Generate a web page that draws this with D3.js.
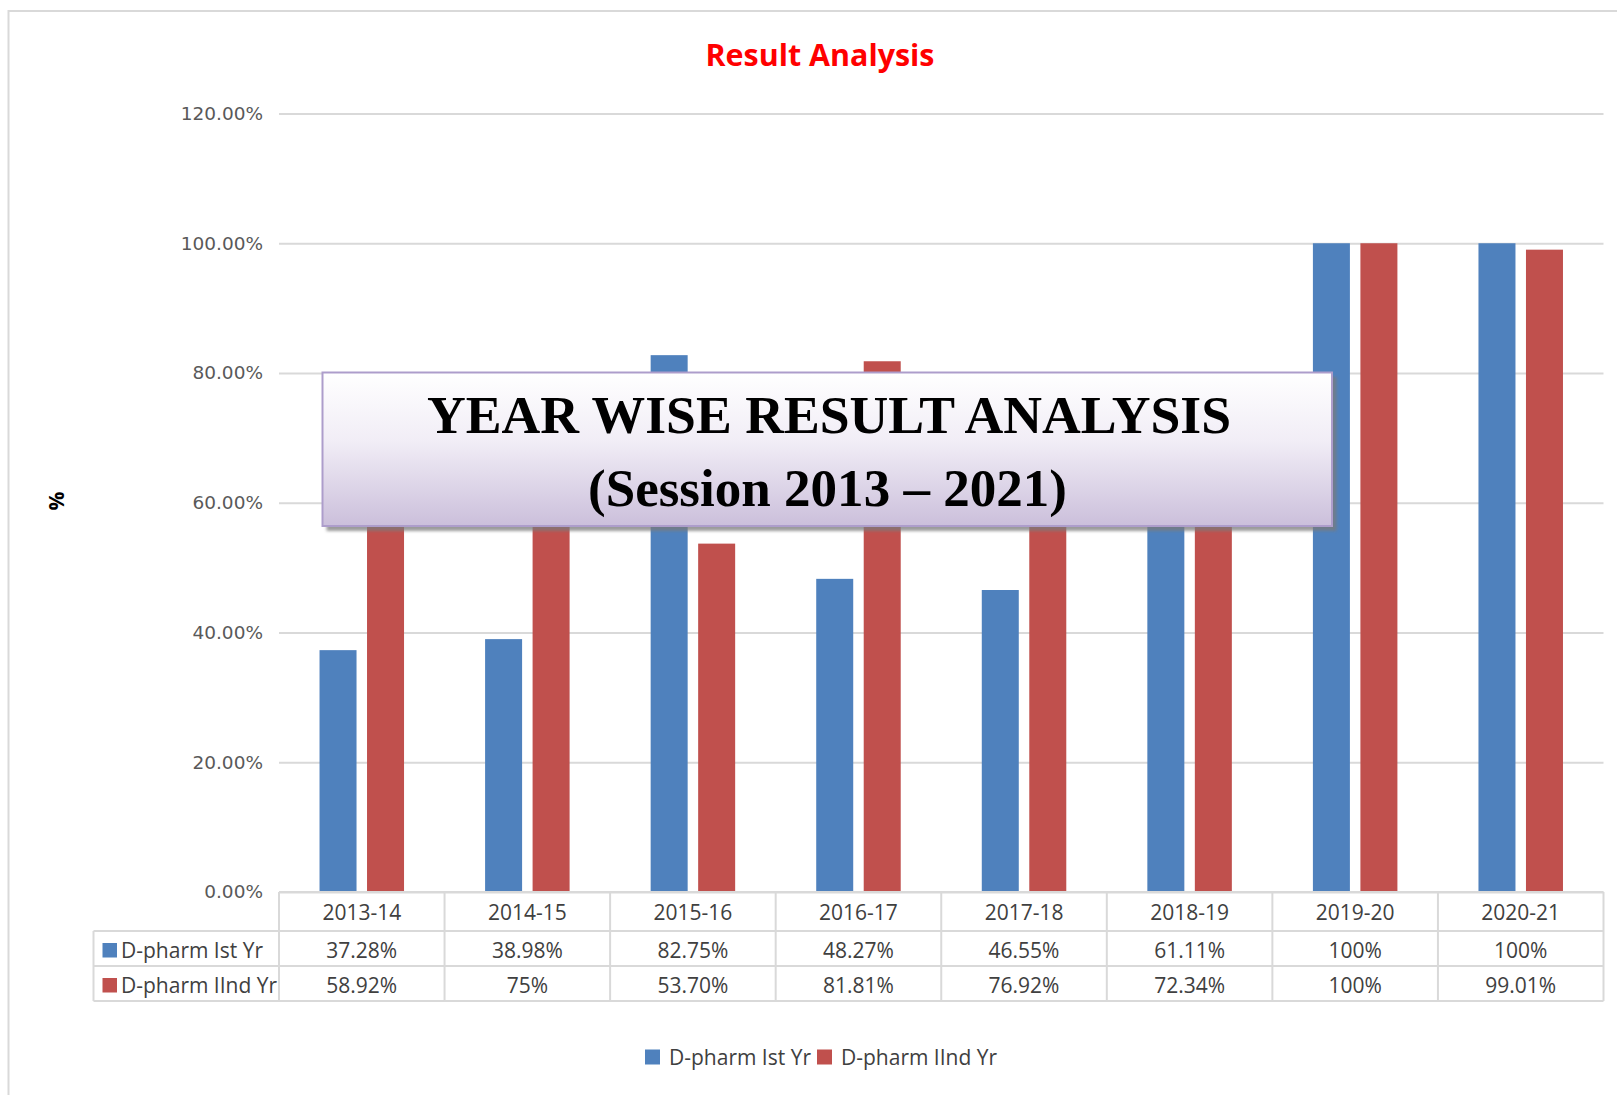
<!DOCTYPE html>
<html>
<head>
<meta charset="utf-8">
<title>Result Analysis</title>
<script src="https://cdn.jsdelivr.net/npm/d3@7"></script>
<style>
	body { margin: 0; background: #ffffff; }
	svg { display: block; }
</style>
</head>
<body>
<div id="svgElement"></div>
<script>
// sessions shown along the bottom
var categories = ["2013-14", "2014-15", "2015-16", "2016-17", "2017-18", "2018-19", "2019-20", "2020-21"];

// series names
var seriesNames = ["D-pharm Ist Yr", "D-pharm IInd Yr"];

// result % per session
var istYr = [37.28, 38.98, 82.75, 48.27, 46.55, 61.11, 100, 100];
var iindYr = [58.92, 75, 53.70, 81.81, 76.92, 72.34, 100, 99.01];

// the text printed in the data table (as written in the original)
var istYrLabels = ["37.28%", "38.98%", "82.75%", "48.27%", "46.55%", "61.11%", "100%", "100%"];
var iindYrLabels = ["58.92%", "75%", "53.70%", "81.81%", "76.92%", "72.34%", "100%", "99.01%"];

// y axis ticks
var yTicks = [0, 20, 40, 60, 80, 100, 120];

var colors = ["#4f81bd", "#c0504d"];

//plot area (note: "top" is taken by window.top, so these get a prefix)
var svgW = 1617, svgH = 1095;
var plotLeft = 279, plotRight = 1603.5, plotTop = 113.5, plotBottom = 892;

var svg = d3.select("#svgElement").append("svg").attr("width", svgW).attr("height", svgH);

//outer chart border
svg.append("rect")
	.attr("x", 8.5).attr("y", 11)
	.attr("width", 1700).attr("height", 1200)
	.attr("fill", "#ffffff")
	.attr("stroke", "#d9d9d9")
	.attr("stroke-width", 2);

//Title
svg.append("text")
	.attr("x", 820).attr("y", 65.5)
	.attr("text-anchor", "middle")
	.attr("font-family", "Open Sans")
	.attr("font-weight", "bold")
	.attr("font-size", 31)
	.attr("textLength", 229)
	.attr("lengthAdjust", "spacingAndGlyphs")
	.attr("fill", "#ff0000")
	.text("Result Analysis");

var y = d3.scaleLinear().domain([0, 120]).range([plotBottom, plotTop]);
var x0 = d3.scaleBand().domain(categories).range([plotLeft, plotRight]);
var bw = x0.bandwidth();
var x1 = d3.scaleBand().domain(seriesNames).range([bw / 2 - 42.25, bw / 2 + 42.25]).paddingInner(0.221);

//gridlines and tick labels
var yAxis = svg.append("g")
	.attr("transform", "translate(" + plotLeft + ",0)")
	.call(d3.axisLeft(y).tickValues(yTicks).tickSize(-(plotRight - plotLeft)).tickPadding(16)
		.tickFormat(function (d) { return d.toFixed(2) + "%"; }));
yAxis.select(".domain").remove();
yAxis.selectAll("line").attr("stroke", "#d9d9d9").attr("stroke-width", 2);
yAxis.selectAll("text")
	.attr("font-family", "DejaVu Sans")
	.attr("font-size", 18.5)
	.attr("fill", "#595959");

//axis title
svg.append("text")
	.attr("transform", "translate(64,501) rotate(-90)")
	.attr("text-anchor", "middle")
	.attr("font-family", "Open Sans")
	.attr("font-weight", "bold")
	.attr("font-size", 21)
	.attr("fill", "#000000")
	.text("%");

//bars
var rows = categories.map(function (c, i) {
	return { cat: c, values: [istYr[i], iindYr[i]] };
});

var groups = svg.selectAll("g.cat").data(rows).enter().append("g")
	.attr("class", "cat")
	.attr("transform", function (d) { return "translate(" + x0(d.cat) + ",0)"; });

groups.selectAll("rect").data(function (d) {
	return d.values.map(function (v, j) { return { name: seriesNames[j], value: v, k: j }; });
}).enter().append("rect")
	.attr("x", function (d) { return x1(d.name); })
	.attr("width", x1.bandwidth())
	.attr("y", function (d) { return y(d.value); })
	.attr("height", function (d) { return y(0) - y(d.value); })
	.attr("fill", function (d) { return colors[d.k]; });

//data table under the chart
var rowTop = [892, 931, 966, 1001];
var table = svg.append("g").attr("stroke", "#d9d9d9").attr("stroke-width", 2);
table.append("line").attr("x1", plotLeft).attr("x2", plotRight).attr("y1", rowTop[0]).attr("y2", rowTop[0]);
for (var r = 1; r < rowTop.length; r++) {
	table.append("line").attr("x1", 93.5).attr("x2", plotRight).attr("y1", rowTop[r]).attr("y2", rowTop[r]);
}
table.append("line").attr("x1", 93.5).attr("x2", 93.5).attr("y1", rowTop[1]).attr("y2", rowTop[3]);
var edges = categories.map(function (c) { return x0(c); }).concat([plotRight]);
table.selectAll("line.v").data(edges).enter().append("line")
	.attr("class", "v")
	.attr("x1", function (d) { return d; }).attr("x2", function (d) { return d; })
	.attr("y1", rowTop[0]).attr("y2", rowTop[3]);

function cellText(list, baseline) {
	svg.append("g").selectAll("text").data(list).enter().append("text")
		.attr("x", function (d, i) { return x0(categories[i]) + bw / 2; })
		.attr("y", baseline)
		.attr("text-anchor", "middle")
		.attr("font-family", "Open Sans")
		.attr("font-size", 21)
		.attr("fill", "#404040")
		.text(function (d) { return d; });
}
cellText(categories, 920);
cellText(istYrLabels, 958);
cellText(iindYrLabels, 993);

//row labels with colour keys
var rowBase = [958, 993];
seriesNames.forEach(function (name, j) {
	svg.append("rect")
		.attr("x", 102.5).attr("y", rowBase[j] - 15)
		.attr("width", 14.5).attr("height", 14.5)
		.attr("fill", colors[j]);
	svg.append("text")
		.attr("x", 121).attr("y", rowBase[j])
		.attr("font-family", "Open Sans")
		.attr("font-size", 21)
		.attr("fill", "#404040")
		.text(name);
});

//legend at the bottom
var legendX = [645, 817];
seriesNames.forEach(function (name, j) {
	svg.append("rect")
		.attr("x", legendX[j]).attr("y", 1049.5)
		.attr("width", 15).attr("height", 15)
		.attr("fill", colors[j]);
	svg.append("text")
		.attr("x", legendX[j] + 24).attr("y", 1064.5)
		.attr("font-family", "Open Sans")
		.attr("font-size", 21)
		.attr("fill", "#404040")
		.text(name);
});

//the heading box laid over the chart
var defs = svg.append("defs");
var grad = defs.append("linearGradient").attr("id", "boxFill").attr("x1", 0).attr("y1", 0).attr("x2", 0).attr("y2", 1);
grad.append("stop").attr("offset", "0%").attr("stop-color", "#ffffff");
grad.append("stop").attr("offset", "45%").attr("stop-color", "#f1edf6");
grad.append("stop").attr("offset", "100%").attr("stop-color", "#cbbfdb");

var blur = defs.append("filter").attr("id", "soft").attr("x", "-5%").attr("y", "-5%").attr("width", "110%").attr("height", "115%");
blur.append("feGaussianBlur").attr("stdDeviation", 1.5);

svg.append("rect")
	.attr("x", 326.5).attr("y", 377)
	.attr("width", 1010).attr("height", 154)
	.attr("fill", "#7a7a7a")
	.attr("opacity", 0.75)
	.attr("filter", "url(#soft)");

svg.append("rect")
	.attr("x", 322.5).attr("y", 372.5)
	.attr("width", 1009.5).attr("height", 153.5)
	.attr("fill", "url(#boxFill)")
	.attr("stroke", "#ad9dcb")
	.attr("stroke-width", 2);

var heading = [
	{ text: "YEAR WISE RESULT ANALYSIS", x: 829, y: 433, len: 804 },
	{ text: "(Session 2013 \u2013 2021)", x: 827.5, y: 506, len: 479 }
];
svg.selectAll("text.heading").data(heading).enter().append("text")
	.attr("class", "heading")
	.attr("x", function (d) { return d.x; })
	.attr("y", function (d) { return d.y; })
	.attr("text-anchor", "middle")
	.attr("font-family", "Liberation Serif")
	.attr("font-weight", "bold")
	.attr("font-size", 53)
	.attr("textLength", function (d) { return d.len; })
	.attr("lengthAdjust", "spacingAndGlyphs")
	.attr("fill", "#000000")
	.text(function (d) { return d.text; });
</script>
</body>
</html>
